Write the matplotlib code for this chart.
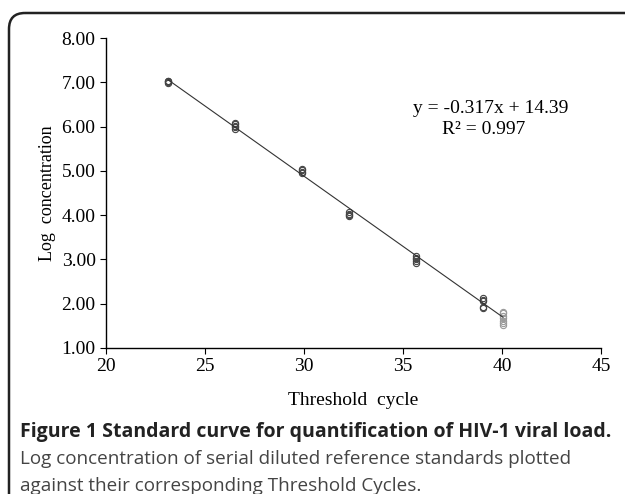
import matplotlib.pyplot as plt
from matplotlib.patches import FancyBboxPatch
import numpy as np

# threshold cycle of each dilution and the log concentrations measured there
ct = [23.15, 26.5, 29.9, 32.25, 35.65, 39.05, 40.05]
logc = [
    [6.98, 7.0, 7.02, 7.04],
    [5.95, 5.98, 6.01, 6.05, 6.09],
    [4.95, 4.98, 5.01, 5.05],
    [3.97, 4.0, 4.03, 4.07],
    [2.92, 2.96, 3.0, 3.04, 3.07],
    [1.9, 1.92, 2.06, 2.09, 2.12],
    [1.52, 1.57, 1.62, 1.67, 1.72, 1.78, 1.82],
]
slope, intercept = -0.317, 14.39
eq_text = 'y = -0.317x + 14.39'
r2_text = 'R\u00b2 = 0.997'

fig = plt.figure(figsize=(6.25, 4.94), dpi=100)

# rounded frame (top + left edges only, like the cropped figure box)
bg = fig.add_axes([0, 0, 1, 1], zorder=-1)
bg.set_xlim(0, 625)
bg.set_ylim(494, 0)
bg.axis('off')
bg.add_patch(FancyBboxPatch((9, 13), 700, 600, boxstyle='round,pad=0,rounding_size=16',
                            fill=False, ec='#222222', lw=1.8))

ax = fig.add_axes([106/625, 1-348/494, (601-106)/625, (348-38)/494])
for x, ys in zip(ct, logc):
    col = '#999999' if x > 40 else '#444444'
    ax.plot([x]*len(ys), ys, 'o', ms=4.5, mfc='none', mec=col, mew=0.8)

xf = np.array([min(ct), max(ct)])
ax.plot(xf, slope*xf + intercept, color='#333333', lw=0.8)

ax.set_xlim(20, 45)
ax.set_ylim(1, 8)
ax.set_xticks(range(20, 46, 5))
ax.set_yticks(range(1, 9))
ax.set_yticklabels(['%.2f' % v for v in range(1, 9)])
ax.spines['top'].set_visible(False)
ax.spines['right'].set_visible(False)
for s in ('left', 'bottom'):
    ax.spines[s].set_linewidth(1.0)
ax.tick_params(labelsize=14, length=4, width=0.8)
for lab in ax.get_xticklabels() + ax.get_yticklabels():
    lab.set_family('Liberation Serif')
ax.set_xlabel('Threshold  cycle', fontsize=14, family='Liberation Serif', labelpad=12)
ax.set_ylabel('Log  concentration', fontsize=13, family='Liberation Serif', labelpad=4)

fig.text(491/625, 1-108/494, eq_text, ha='center', va='center',
         fontsize=14, family='Liberation Serif')
fig.text(484/625, 1-130/494, r2_text, ha='center', va='center',
         fontsize=14, family='Liberation Serif')

fig.text(20/625, 1-432/494, 'Figure 1 Standard curve for quantification of HIV-1 viral load.',
         fontsize=14, fontweight='bold', family='Open Sans', color='#222222', va='center')
fig.text(20/625, 1-459/494, 'Log concentration of serial diluted reference standards plotted',
         fontsize=13.6, family='Open Sans', color='#444444', va='center')
fig.text(20/625, 1-486/494, 'against their corresponding Threshold Cycles.',
         fontsize=13.6, family='Open Sans', color='#444444', va='center')

fig.savefig('out.png', dpi=100)
